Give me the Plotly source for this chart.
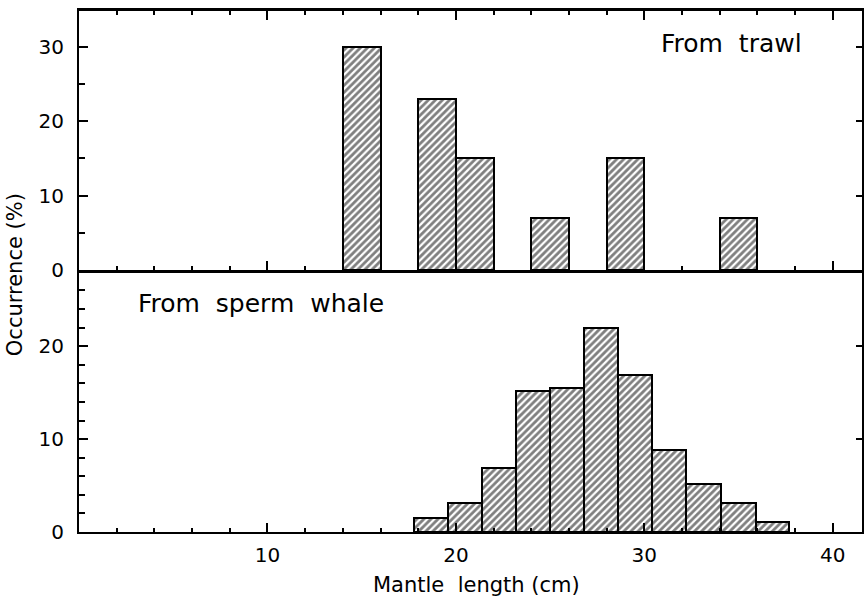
import plotly.graph_objects as go

# Top panel: from trawl (bin edges 2 cm)
trawl_left = [14, 18, 20, 24, 28, 34]
trawl_right = [16, 20, 22, 26, 30, 36]
trawl_pct = [30, 23, 15, 7, 15, 7]

# Bottom panel: from sperm whale
whale_edges = [17.8, 19.6, 21.4, 23.2, 25.0, 26.8, 28.6, 30.4, 32.2, 34.05, 35.9, 37.7]
whale_pct = [1.5, 3.1, 6.9, 15.2, 15.5, 22.0, 16.9, 8.8, 5.2, 3.1, 1.1]

x_ticks = [10, 20, 30, 40]
FONT = "DejaVu Sans"

W, H = 864, 599
L, R, T, B = 79, 0, 11, 67
split = (532 - 270) / (532 - 11)

fig = go.Figure()

pattern = dict(shape="/", fgcolor="black", bgcolor="white", size=5, solidity=0.55)

fig.add_trace(go.Bar(
    x=[(a + b) / 2 for a, b in zip(trawl_left, trawl_right)],
    width=[b - a for a, b in zip(trawl_left, trawl_right)],
    y=trawl_pct,
    marker=dict(color="white", line=dict(color="black", width=2), pattern=pattern),
    showlegend=False, xaxis="x", yaxis="y",
))

fig.add_trace(go.Bar(
    x=[(whale_edges[i] + whale_edges[i + 1]) / 2 for i in range(len(whale_pct))],
    width=[whale_edges[i + 1] - whale_edges[i] for i in range(len(whale_pct))],
    y=whale_pct,
    marker=dict(color="white", line=dict(color="black", width=2), pattern=pattern),
    showlegend=False, xaxis="x2", yaxis="y2",
))

# invisible traces to carry right-side tick axes
fig.add_trace(go.Scatter(x=[None], y=[None], xaxis="x", yaxis="y3", showlegend=False, hoverinfo="skip"))
fig.add_trace(go.Scatter(x=[None], y=[None], xaxis="x2", yaxis="y4", showlegend=False, hoverinfo="skip"))

tf = dict(family=FONT, size=20, color="black")
xrange_ = [0, 41.55]

def minor(d, ln):
    return dict(dtick=d, tick0=0, ticks="inside", ticklen=ln, tickwidth=2, tickcolor="black")

fig.update_layout(
    width=W, height=H,
    margin=dict(l=L, r=R, t=T, b=B),
    plot_bgcolor="white", paper_bgcolor="white",
    bargap=0,
    font=dict(family=FONT, color="black"),
    xaxis=dict(domain=[0, 1], anchor="y", range=xrange_, showline=True, linecolor="black",
               linewidth=3, mirror="ticks", ticks="inside", ticklen=9, tickwidth=2,
               tickcolor="black", tickvals=x_ticks, showticklabels=False, showgrid=False,
               zeroline=False, minor=minor(2, 4)),
    xaxis2=dict(domain=[0, 1], anchor="y2", range=xrange_, showline=True, linecolor="black",
                linewidth=2, mirror=False, ticks="inside", ticklen=9, tickwidth=2,
                tickcolor="black", tickvals=x_ticks, showticklabels=True, showgrid=False,
                zeroline=False, minor=minor(2, 4), tickfont=tf, ticklabelstandoff=4),
    yaxis=dict(domain=[split, 1], anchor="x", range=[0, 34.8], tickvals=[0, 10, 20, 30],
               showline=True, linecolor="black", linewidth=2, mirror=True,
               ticks="inside", ticklen=9, tickwidth=2, tickcolor="black",
               showgrid=False, zeroline=False, tickfont=tf, ticklabelstandoff=9,
               minor=minor(5, 6)),
    yaxis2=dict(domain=[0, split], anchor="x2", range=[0, 28.2], tickvals=[0, 10, 20],
                showline=True, linecolor="black", linewidth=2, mirror=True,
                ticks="inside", ticklen=9, tickwidth=2, tickcolor="black",
                showgrid=False, zeroline=False, tickfont=tf, ticklabelstandoff=9,
                minor=minor(2, 6)),
    yaxis3=dict(overlaying="y", side="right", anchor="x", range=[0, 34.8],
                tickvals=[10, 20, 30], ticks="inside", ticklen=6, tickwidth=2,
                tickcolor="black", showticklabels=False, showgrid=False, zeroline=False,
                showline=False),
    yaxis4=dict(overlaying="y2", side="right", anchor="x2", range=[0, 28.2],
                tickvals=[10, 20], ticks="inside", ticklen=6, tickwidth=2,
                tickcolor="black", showticklabels=False, showgrid=False, zeroline=False,
                showline=False),
)

pw = W - L - R
ph = H - T - B

def ann(text, px, py, size, angle=0):
    fig.add_annotation(text=text, xref="paper", yref="paper",
                       x=(px - L) / pw, y=(532 - py) / ph, xanchor="center", yanchor="middle",
                       showarrow=False, textangle=angle,
                       font=dict(family=FONT, size=size, color="black"))

ann("From  trawl", 733, 43, 25)
ann("From  sperm  whale", 261, 303, 25)
ann("Mantle  length (cm)", 478, 585, 21)
ann("Occurrence (%)", 15, 275, 21, -90)

fig.write_html("out.html")
